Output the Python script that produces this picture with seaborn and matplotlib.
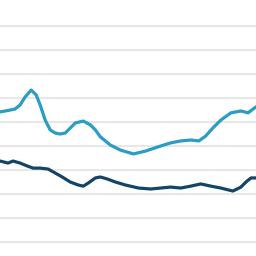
import matplotlib
matplotlib.use("Agg")
import matplotlib.pyplot as plt
import seaborn as sns
import pandas as pd

# positions along the horizontal axis (abstract units)
light_x = [0, 8, 15, 20, 25, 31, 36, 40, 45, 50, 55, 60, 65, 70, 75, 83, 90, 95,
           100, 110, 120, 133, 145, 160, 170, 180, 190, 198, 205, 212, 220, 230,
           240, 247, 255]
light_y = [54.2, 54.8, 55.4, 57.1, 60.4, 63.3, 61.3, 57.1, 50.8, 46.7, 45.4, 45.0,
           45.4, 47.5, 49.6, 50.4, 48.8, 46.7, 43.8, 40.4, 38.3, 36.7, 37.9, 40.0,
           41.3, 42.1, 42.5, 42.1, 44.2, 47.5, 50.8, 53.8, 54.6, 53.8, 56.3]

dark_x = [0, 8, 13, 20, 27, 33, 40, 48, 55, 62, 70, 78, 83, 88, 95, 100, 107, 115,
          125, 138, 150, 160, 170, 180, 190, 200, 210, 220, 232, 240, 245, 250, 255]
dark_y = [33.75, 32.9, 33.75, 32.9, 31.7, 30.8, 30.8, 30.4, 28.75, 27.1, 25.0,
          23.75, 23.3, 24.6, 26.7, 27.1, 26.25, 25.0, 23.75, 22.5, 22.1, 22.5,
          22.9, 22.5, 23.3, 24.2, 23.3, 22.5, 21.25, 22.9, 25.0, 26.7, 26.7]

grid_ticks = [0, 10, 20, 30, 40, 50, 60, 70, 80, 90]

sns.set_style("white")
fig = plt.figure(figsize=(2.56, 2.56), dpi=100)
ax = fig.add_axes([0, 0, 1, 1])

df_light = pd.DataFrame({"x": light_x, "y": light_y})
df_dark = pd.DataFrame({"x": dark_x, "y": dark_y})

sns.lineplot(data=df_light, x="x", y="y", ax=ax, color="#2a9cc6", linewidth=2.3,
             solid_capstyle="round", solid_joinstyle="round")
sns.lineplot(data=df_dark, x="x", y="y", ax=ax, color="#144566", linewidth=2.3,
             solid_capstyle="round", solid_joinstyle="round")

ax.set_xlim(0, 255)
ax.set_ylim(-5.8, 100.8)
ax.set_yticks(grid_ticks)
ax.grid(axis="y", color="#e3e3e3", linewidth=1.2)
ax.grid(axis="x", visible=False)
ax.set_axisbelow(True)
for s in ax.spines.values():
    s.set_visible(False)
ax.set_xticks([])
ax.tick_params(axis="y", length=0, labelleft=False)
ax.set_xlabel("")
ax.set_ylabel("")

fig.savefig("out.png", dpi=100)
